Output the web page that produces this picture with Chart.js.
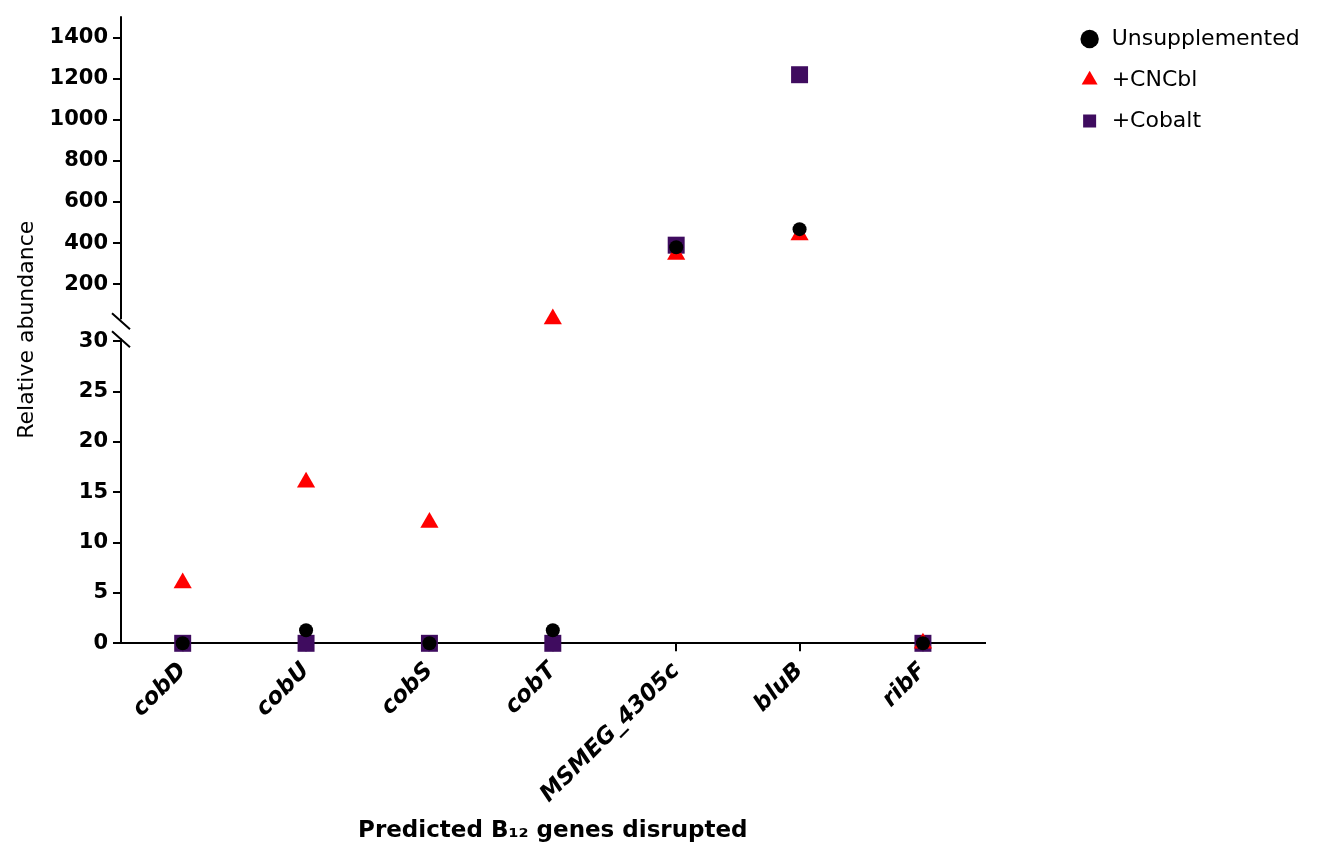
<!DOCTYPE html>
<html>
<head>
<meta charset="utf-8">
<title>Relative abundance of B12 gene mutants</title>
<script src="https://cdn.jsdelivr.net/npm/chart.js@4.4.1/dist/chart.umd.min.js"></script>
<style>
  html, body { margin: 0; padding: 0; background: #fff; }
  #wrap { width: 1328px; height: 845px; }
</style>
</head>
<body>
<div id="wrap"><canvas id="abundance-chart"></canvas></div>
<script>
// genes on the x axis
const genes = ['cobD', 'cobU', 'cobS', 'cobT', 'MSMEG_4305c', 'bluB', 'ribF'];

// relative abundance per growth condition
const unsupplemented = [0, 1.3, 0, 1.3, 380, 468, 0];
const cncbl = [6, 16, 12, 31, 345, 440, 0];
const cobalt = [0, 0, 0, 0, 390, 1220, 0];

// tick labels for the two halves of the broken y axis
const lowTicks = [0, 5, 10, 15, 20, 25, 30];
const highTicks = [200, 400, 600, 800, 1000, 1200, 1400];
const breakAt = 30;
const axisTopValue = 1505;   // where the drawn upper axis line stops

const FONT = "'DejaVu Sans', sans-serif";
Chart.defaults.font.family = FONT;
Chart.defaults.color = '#000';

const series = [
    { label: 'Unsupplemented', values: unsupplemented, color: '#000000', style: 'circle', radius: 7 },
    { label: '+CNCbl', values: cncbl, color: '#ff0000', style: 'triangle', radius: 10.5 },
    { label: '+Cobalt', values: cobalt, color: '#3f0c5f', style: 'rect', radius: 12 }
];

function pointSet(s, data, axis) {
    return {
        label: s.label,
        data: data,
        yAxisID: axis,
        showLine: false,
        clip: false,
        pointStyle: s.style,
        pointRadius: s.radius,
        pointHoverRadius: s.radius,
        pointBorderWidth: 0,
        pointBackgroundColor: s.color,
        pointBorderColor: s.color,
        backgroundColor: s.color,
        borderColor: s.color
    };
}

// values up to the break go on the lower axis, the rest on the upper one
const datasets = [
    ...series.map(s => pointSet(s, s.values.map(v => v <= breakAt ? v : null), 'yLow')),
    ...series.map(s => pointSet(s, s.values.map(v => v > breakAt ? v : null), 'yHigh'))
];

// axis line with the break marks, plus one title spanning both y segments
const brokenAxis = {
    id: 'brokenAxis',
    afterDraw(chart) {
        const { ctx } = chart;
        const hi = chart.scales.yHigh;
        const lo = chart.scales.yLow;
        const x = chart.chartArea.left;
        const hiStart = hi.getPixelForValue(axisTopValue);
        const hiEnd = hi.bottom - 2;
        const loStart = lo.getPixelForValue(breakAt) - 3;

        ctx.save();
        ctx.strokeStyle = '#000';
        ctx.lineWidth = 2;
        ctx.beginPath();
        ctx.moveTo(x, hiStart);
        ctx.lineTo(x, hiEnd);
        ctx.moveTo(x, loStart);
        ctx.lineTo(x, lo.bottom);
        [hi.bottom, loStart + 1].forEach(y => {
            ctx.moveTo(x - 9, y - 8);
            ctx.lineTo(x + 9, y + 8);
        });
        ctx.stroke();

        ctx.translate(27, (hiStart + lo.bottom) / 2);
        ctx.rotate(-Math.PI / 2);
        ctx.font = '22px ' + FONT;
        ctx.textAlign = 'center';
        ctx.textBaseline = 'middle';
        ctx.fillStyle = '#000';
        ctx.fillText('Relative abundance', 0, 0);
        ctx.restore();
    }
};

// the legend box is capped at a share of the width; let it run to the canvas edge
const legendRoom = {
    id: 'legendRoom',
    afterLayout(chart) {
        const lg = chart.legend;
        lg.right = chart.width - 4;
        lg.width = lg.right - lg.left;
    }
};

const tickGrid = { drawOnChartArea: false, color: '#000', lineWidth: 2, tickLength: 8 };
const yTicks = { color: '#000', font: { size: 21, weight: 'bold' }, padding: 5, callback: v => String(v) };
const noPad = s => {
    s.paddingTop = 0;
    s.paddingBottom = 0;
};
const fitY = s => {
    s.width = 121;
    noPad(s);
};

new Chart(document.getElementById('abundance-chart'), {
    type: 'line',
    data: { labels: genes, datasets: datasets },
    options: {
        responsive: true,
        maintainAspectRatio: false,
        animation: false,
        layout: { autoPadding: false, padding: { top: 9, right: 117, bottom: 0, left: 0 } },
        plugins: {
            tooltip: { enabled: false },
            legend: {
                position: 'right',
                align: 'start',
                labels: {
                    usePointStyle: true,
                    boxHeight: 13,
                    padding: 19,
                    font: { size: 22 },
                    color: '#000',
                    filter: item => item.datasetIndex < series.length
                }
            }
        },
        scales: {
            x: {
                offset: true,
                border: { color: '#000', width: 2 },
                grid: tickGrid,
                ticks: {
                    minRotation: 45,
                    maxRotation: 45,
                    padding: 6,
                    color: '#000',
                    font: { size: 23, weight: 'bold', style: 'italic' }
                },
                title: {
                    display: true,
                    text: 'Predicted B\u2081\u2082 genes disrupted',
                    color: '#000',
                    font: { size: 23, weight: 'bold' },
                    padding: { top: 3, bottom: 0 }
                }
            },
            yLow: {
                type: 'linear',
                position: 'left',
                stack: 'y',
                stackWeight: 322,
                min: 0,
                max: 32,
                border: { display: false },
                grid: tickGrid,
                ticks: yTicks,
                afterBuildTicks: s => { s.ticks = lowTicks.map(v => ({ value: v })); },
                afterFit: fitY
            },
            yHigh: {
                type: 'linear',
                position: 'left',
                stack: 'y',
                stackWeight: 312,
                min: 20,
                max: 1540,
                border: { display: false },
                grid: tickGrid,
                ticks: yTicks,
                afterBuildTicks: s => { s.ticks = highTicks.map(v => ({ value: v })); },
                afterFit: fitY
            },
            // empty spacer between the plot and the legend
            gap: {
                type: 'linear',
                position: 'right',
                display: true,
                grid: { display: false },
                border: { display: false },
                ticks: { display: false },
                afterFit: s => {
                    s.width = 75;
                    noPad(s);
                }
            }
        }
    },
    plugins: [brokenAxis, legendRoom]
});
</script>
</body>
</html>
